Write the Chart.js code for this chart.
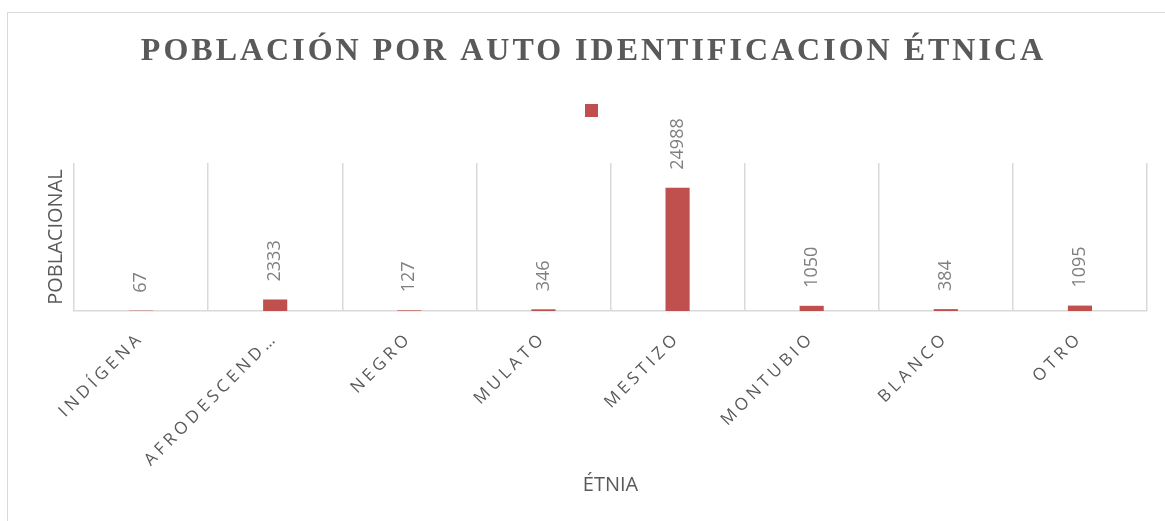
<!DOCTYPE html>
<html lang="es">
<head>
<meta charset="utf-8">
<title>Población por auto identificación étnica</title>
<script src="https://cdn.jsdelivr.net/npm/chart.js@4.4.1/dist/chart.umd.min.js"></script>
<style>
  html, body { margin: 0; padding: 0; background: #fff; }
  body { width: 1165px; height: 521px; overflow: hidden; position: relative; }
  .marco { position: absolute; left: 7px; top: 12px; width: 1170px; height: 520px; border: 1px solid #d9d9d9; }
  .grafico { position: absolute; left: 0; top: 0; width: 1158px; height: 509px; }
</style>
</head>
<body>
<div class="marco"><div class="grafico"><canvas id="etnias"></canvas></div></div>
<script>
// datos del gráfico
const categorias = ['INDÍGENA', 'AFRODESCENDIENTE', 'NEGRO', 'MULATO', 'MESTIZO', 'MONTUBIO', 'BLANCO', 'OTRO'];
const poblacion = [67, 2333, 127, 346, 24988, 1050, 384, 1095];
const ejeYMax = 30000;

Chart.defaults.font.family = "'Open Sans', sans-serif";
Chart.defaults.color = '#595959';

// etiquetas de valor giradas encima de cada barra
const etiquetasValor = {
    id: 'etiquetasValor',
    afterDatasetsDraw(chart) {
        const ctx = chart.ctx;
        const meta = chart.getDatasetMeta(0);
        ctx.save();
        ctx.font = "18px 'Open Sans', sans-serif";
        ctx.fillStyle = '#7f7f7f';
        ctx.textAlign = 'left';
        ctx.textBaseline = 'middle';
        meta.data.forEach((barra, i) => {
            ctx.save();
            ctx.translate(barra.x, barra.y - 18);
            ctx.rotate(-Math.PI / 2);
            ctx.fillText(String(poblacion[i]), 0, 0);
            ctx.restore();
        });
        ctx.restore();
    }
};

// espaciado entre letras del título y de las categorías (estilo Excel)
const espaciado = {
    id: 'espaciado',
    beforeDraw(chart) {
        const t = chart.titleBlock;
        if (t && !t._espaciado) {
            const dibujar = t.draw.bind(t);
            t.draw = function (area) {
                chart.ctx.letterSpacing = '3px';
                dibujar(area);
                chart.ctx.letterSpacing = '0px';
            };
            t._espaciado = true;
        }
        const x = chart.scales.x;
        if (x && !x._espaciado) {
            const etiquetas = x.drawLabels.bind(x);
            x.drawLabels = function (area) {
                chart.ctx.letterSpacing = '4px';
                etiquetas(area);
                chart.ctx.letterSpacing = '0px';
            };
            x._espaciado = true;
        }
    }
};

const ctx = document.getElementById('etnias').getContext('2d');

new Chart(ctx, {
    type: 'bar',
    data: {
        labels: categorias,
        datasets: [{
            label: '',
            data: poblacion,
            backgroundColor: '#C0504D',
            borderWidth: 0,
            barPercentage: 0.9,
            categoryPercentage: 0.2
        }]
    },
    options: {
        responsive: true,
        maintainAspectRatio: false,
        animation: false,
        layout: {
            padding: { left: 32, right: 19, top: 0, bottom: 25 }
        },
        plugins: {
            title: {
                display: true,
                text: 'POBLACIÓN POR AUTO IDENTIFICACION ÉTNICA',
                color: '#595959',
                font: { family: "'Liberation Serif', 'Times New Roman', serif", size: 32, weight: 'bold', lineHeight: 1.2 },
                padding: { top: 20, bottom: 22.6 }
            },
            legend: {
                display: true,
                position: 'top',
                labels: { boxWidth: 13, boxHeight: 13, padding: 10, font: { size: 8 } }
            },
            // separador vacío entre la leyenda y el área de trazado
            subtitle: {
                display: true,
                text: '',
                weight: 500,
                font: { size: 10, lineHeight: 1 },
                padding: { top: 0, bottom: 26 }
            },
            tooltip: { enabled: false }
        },
        scales: {
            x: {
                offset: true,
                afterFit: (escala) => { escala.height = 186; },
                grid: { display: true, offset: true, color: '#d9d9d9', lineWidth: 1.5, drawTicks: false },
                border: { display: true, color: '#d9d9d9', width: 1.5 },
                ticks: {
                    color: '#595959',
                    font: { size: 17 },
                    maxRotation: 45,
                    minRotation: 45,
                    padding: 17,
                    autoSkip: false,
                    callback: function (value) {
                        const t = this.getLabelForValue(value);
                        return t.length > 12 ? t.slice(0, 11) + '…' : t;
                    }
                },
                title: {
                    display: true,
                    text: 'ÉTNIA',
                    color: '#595959',
                    font: { size: 20, lineHeight: 1.2 },
                    padding: { top: 0, bottom: 0 }
                }
            },
            y: {
                min: 0,
                max: ejeYMax,
                grid: { display: false, drawTicks: false },
                border: { display: false },
                ticks: { display: false },
                title: {
                    display: true,
                    text: 'POBLACIONAL',
                    color: '#595959',
                    font: { size: 20, lineHeight: 1.2 },
                    padding: { top: 4, bottom: 6 }
                }
            }
        }
    },
    plugins: [etiquetasValor, espaciado]
});
</script>
</body>
</html>
